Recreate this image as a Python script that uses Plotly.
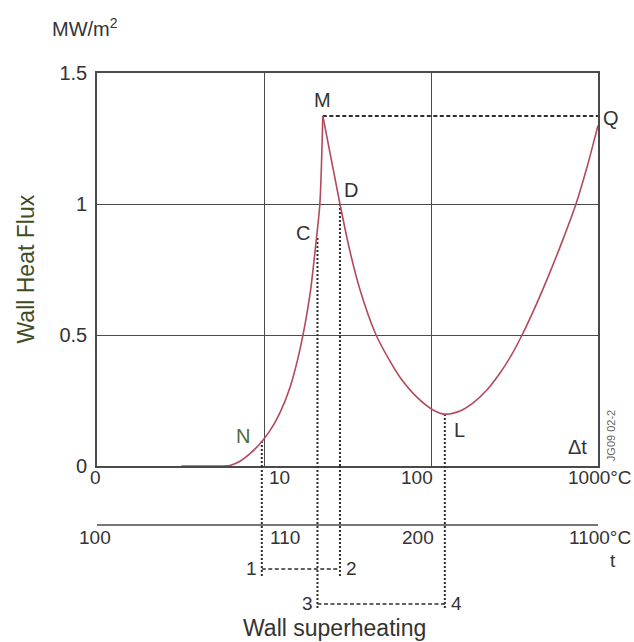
import numpy as np
import plotly.graph_objects as go

# ---------------- data ----------------
# nucleate-boiling branch (wall superheat dt in degC, heat flux in MW/m2)
dt_left = [3.2, 5.45, 6.26, 7.18, 8.24, 9.46, 10.86, 12.47, 14.31, 16.42, 18.85, 20.5, 21.6, 22.5]
q_left = [0.0, 0.0, 0.002, 0.018, 0.047, 0.085, 0.135, 0.204, 0.30, 0.445, 0.655, 0.856, 1.0, 1.336]

# transition + film boiling branch
dt_right = [22.5, 28.5, 32.7, 37.6, 46.9, 56.8, 65, 82, 103, 121, 149, 178, 216, 259,
            301, 351, 426, 516, 617, 738, 859, 1000]
q_right = [1.336, 1.0, 0.82, 0.672, 0.5, 0.40, 0.34, 0.264, 0.214, 0.198, 0.21, 0.24, 0.29, 0.355,
           0.42, 0.5, 0.615, 0.74, 0.865, 1.0, 1.14, 1.30]

# named points on the curve
point_labels = ["N", "C", "M", "D", "L", "Q"]
point_dt = [9.7, 20.9, 22.5, 28.5, 121, 1000]
point_q = [0.095, 0.87, 1.336, 1.0, 0.198, 1.30]

# axes ticks
q_ticks = [0, 0.5, 1.0, 1.5]
q_ticktext = ["0", "0.5", "1", "1.5"]
dt_grid = [10, 100]
dt_tick_pos = [1, 10, 100, 1000]
dt_tick_text = ["0", "10", "100", "1000°C"]
t_tick_text = ["100", "110", "200", "1100°C"]

# ---------------- styling ----------------
FONT = "Arial, Liberation Sans, Helvetica, sans-serif"
TXT = "#333333"
CURVE = "#b24a5c"
LINE = "#2e2e2e"
AX = "#4a4a4a"

P = dict(zip(point_labels, zip(point_dt, point_q)))

fig = go.Figure()

# dashed M - Q level
fig.add_trace(go.Scatter(x=[P["M"][0], P["Q"][0]], y=[P["M"][1], P["M"][1]], mode="lines",
                         line=dict(color=LINE, width=2, dash="4px,2.5px"), hoverinfo="skip"))

# dotted drops from N, C, D, L to the axis (inside plot)
for name in ["N", "C", "D", "L"]:
    x, q = P[name]
    fig.add_trace(go.Scatter(x=[x, x], y=[q, 0], mode="lines",
                             line=dict(color=LINE, width=2, dash="2px,2px"), hoverinfo="skip"))

# boiling curve
fig.add_trace(go.Scatter(x=dt_left, y=q_left, mode="lines",
                         line=dict(color=CURVE, width=1.6, shape="spline", smoothing=0.8)))
fig.add_trace(go.Scatter(x=dt_right, y=q_right, mode="lines",
                         line=dict(color=CURVE, width=1.6, shape="spline", smoothing=0.8)))

shapes = []
# second (absolute temperature) scale line
shapes.append(dict(type="line", xref="x", yref="paper", x0=dt_tick_pos[0], x1=dt_tick_pos[-1],
                   y0=-0.150, y1=-0.150, line=dict(color=AX, width=1.5)))
# dotted drops continued below the plot
for name, yb in [("N", -0.285), ("C", -0.362), ("D", -0.285), ("L", -0.362)]:
    x = P[name][0]
    shapes.append(dict(type="line", xref="x", yref="paper", x0=x, x1=x, y0=0, y1=yb,
                       line=dict(color=LINE, width=2, dash="2px,2px")))
# dashed ranges 1-2 and 3-4
shapes.append(dict(type="line", xref="x", yref="paper", x0=P["N"][0], x1=P["D"][0],
                   y0=-0.262, y1=-0.262, line=dict(color=LINE, width=1.6, dash="4px,2.5px")))
shapes.append(dict(type="line", xref="x", yref="paper", x0=P["C"][0], x1=P["L"][0],
                   y0=-0.351, y1=-0.351, line=dict(color=LINE, width=1.6, dash="4px,2.5px")))

ann = []
def A(text, x, y, xref="paper", yref="paper", size=20, color=TXT, **kw):
    d = dict(text=text, x=x, y=y, xref=xref, yref=yref, showarrow=False,
             font=dict(family=FONT, size=size, color=color))
    d.update(kw)
    ann.append(d)

# x tick labels (delta t) and t scale labels
anchors = ["center", "left", "right", "center"]
shifts = [-2, 3, 4, 2]
for pos, t1, t2, xa, xs in zip(dt_tick_pos, dt_tick_text, t_tick_text, anchors, shifts):
    A(t1, np.log10(pos), -0.028, xref="x", xanchor=xa, xshift=xs, yanchor="middle", size=19)
    A(t2, np.log10(pos), -0.181, xref="x", xanchor=xa, xshift=xs + (1 if xa != "center" else 0),
      yanchor="middle", size=19)

A("t", 1.029, -0.240, xanchor="center", yanchor="middle", size=19)
A("Δt", 0.96, 0.048, xanchor="center", yanchor="middle", size=20)
A("JG09 02-2", 1.026, 0.076, xanchor="center", yanchor="middle", size=11, color="#666666",
  textangle=-90)
A("MW/m<sup>2</sup>", -0.024, 1.115, xanchor="center", yanchor="middle", size=20)
A("Wall Heat Flux", -0.1437, 0.5, xanchor="center", yanchor="middle", size=23, color="#3f4d24",
  textangle=-90)
A("Wall superheating", 0.475, -0.412, xanchor="center", yanchor="middle", size=23)

# point labels
offs = {"N": (-19, 5, "#4f6d3c"), "C": (-14, 5, TXT), "M": (0, 16, TXT), "D": (11, 14, TXT),
        "L": (15, -16, TXT), "Q": (13, 7, TXT)}
for name in point_labels:
    x, q = P[name]
    dx, dy, col = offs[name]
    A(name, np.log10(x), q, xref="x", yref="y", xanchor="center", yanchor="middle",
      xshift=dx, yshift=dy, color=col, size=20)

# numbered range ends
A("1", np.log10(P["N"][0]), -0.262, xref="x", xanchor="right", xshift=-3, yanchor="middle", size=19)
A("2", np.log10(P["D"][0]), -0.262, xref="x", xanchor="left", xshift=4, yanchor="middle", size=19)
A("3", np.log10(P["C"][0]), -0.351, xref="x", xanchor="right", xshift=-2, yanchor="middle", size=19)
A("4", np.log10(P["L"][0]), -0.351, xref="x", xanchor="left", xshift=4, yanchor="middle", size=19)

fig.update_layout(
    width=634, height=642,
    margin=dict(l=97, r=36, t=73, b=176, autoexpand=False),
    paper_bgcolor="white", plot_bgcolor="white",
    showlegend=False,
    shapes=shapes, annotations=ann,
    xaxis=dict(type="log", range=[0, 3], tickvals=dt_grid, showticklabels=False,
               showgrid=True, gridcolor=AX, gridwidth=1.4, zeroline=False,
               showline=True, mirror=True, linecolor=AX, linewidth=1.6, ticks=""),
    yaxis=dict(range=[0, 1.5], tickvals=q_ticks, ticktext=q_ticktext,
               showgrid=True, gridcolor=AX, gridwidth=1.4, zeroline=False,
               showline=True, mirror=True, linecolor=AX, linewidth=1.6, ticks="",
               ticklabelstandoff=4,
               tickfont=dict(family=FONT, size=20, color=TXT)),
)

# remove the browser's default 8px body margin so the figure fills the window exactly
fig.write_html("out.html",
               config={"displayModeBar": False},
               post_script="document.body.style.margin='0';document.body.style.overflow='hidden';")
